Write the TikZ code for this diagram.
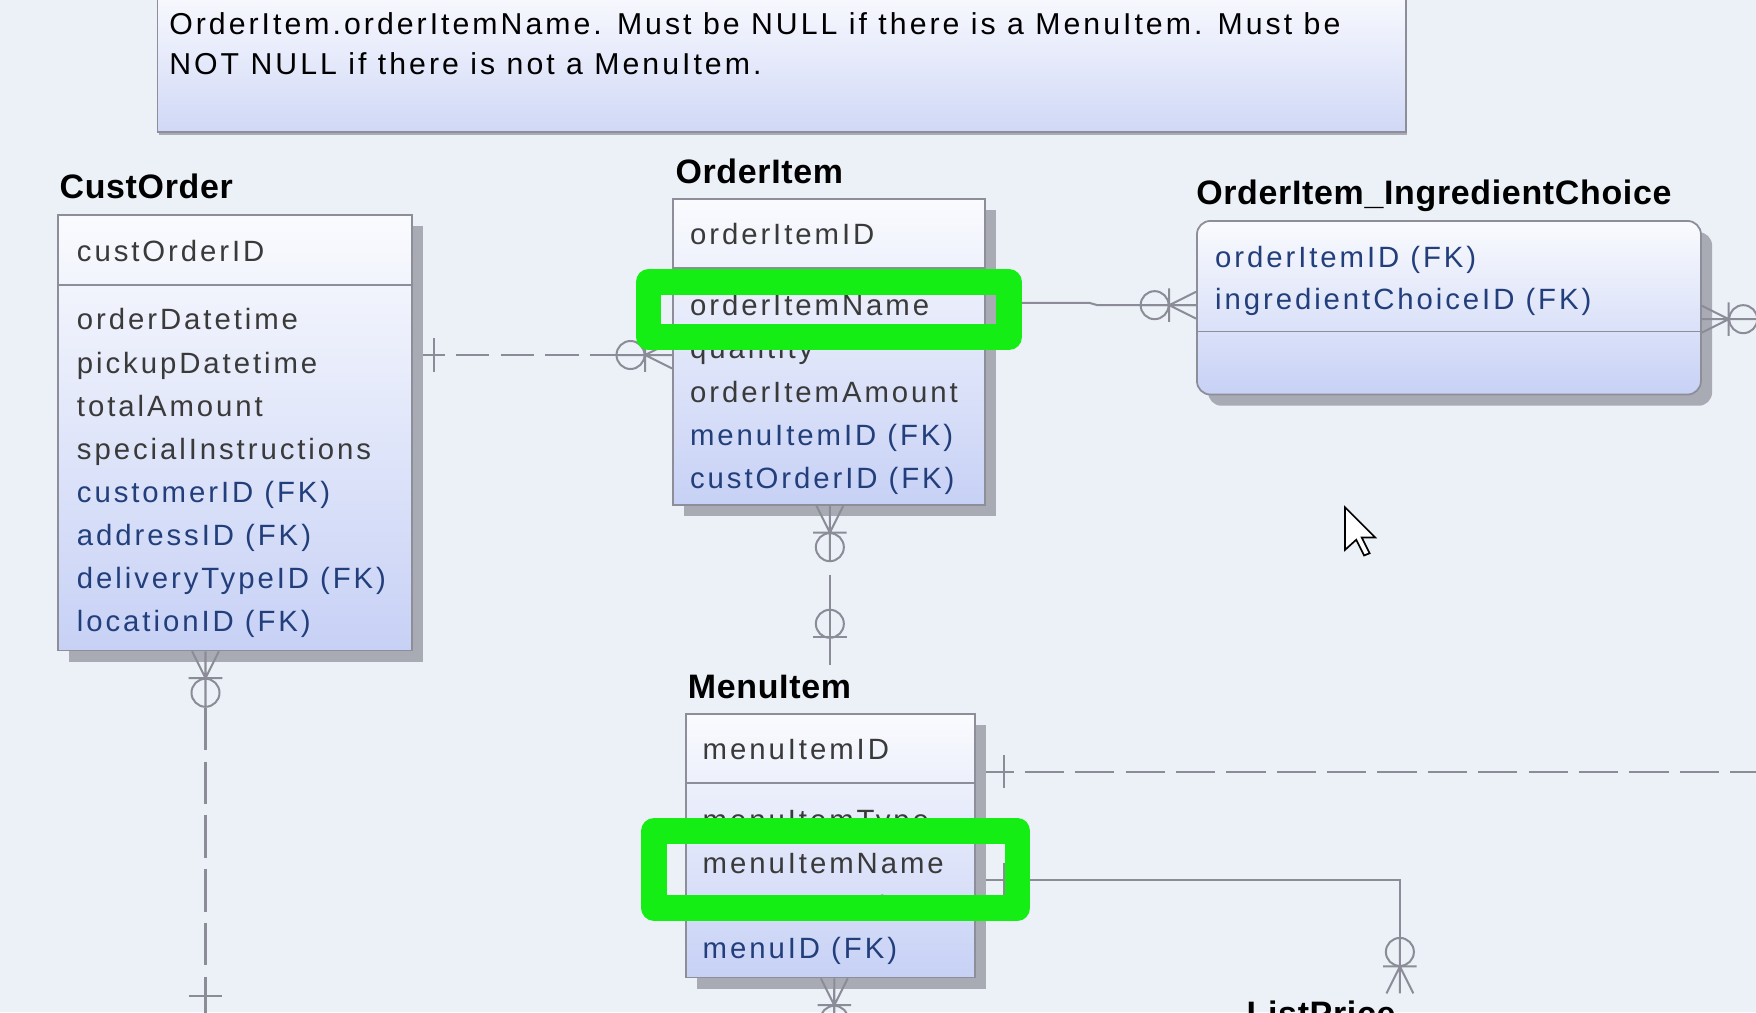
\documentclass[tikz,border=0pt]{standalone}
\usepackage{fontspec}
\setmainfont{Liberation Sans}
\newfontfamily\attrfont[LetterSpace=10]{Liberation Sans}
\newfontfamily\ttlfont[LetterSpace=2]{Liberation Sans}
\usetikzlibrary{shadows,calc}
\definecolor{bgc}{HTML}{ECF1F8}
\definecolor{eborder}{HTML}{8E8E9A}
\definecolor{eshadow}{HTML}{A9ABB4}
\definecolor{etop}{HTML}{FAFBFE}
\definecolor{ebot}{HTML}{C7D1F5}
\definecolor{ntop}{HTML}{FDFDFF}
\definecolor{nbot}{HTML}{D0D8F6}
\definecolor{txtgray}{HTML}{3A3A3A}
\definecolor{fknavy}{HTML}{223F7C}
\definecolor{conngray}{HTML}{8C8C98}
\definecolor{hlgreen}{HTML}{14EE14}
\tikzset{
  ebox/.style={anchor=north west, inner sep=0pt, draw=eborder, line width=1.6pt,
    top color=etop, bottom color=ebot,
    drop shadow={shadow xshift=10pt, shadow yshift=-10pt, fill=eshadow, opacity=1}},
  notebox/.style={anchor=north west, inner sep=0pt, draw=eborder, line width=1.4pt,
    top color=ntop, bottom color=nbot,
    drop shadow={shadow xshift=1pt, shadow yshift=-3pt, fill=eshadow, opacity=1}},
  divider/.style={draw=eborder, line width=1.6pt},
  attr/.style={anchor=base west, inner sep=0pt, text=txtgray, font={\attrfont\fontsize{26.2}{31}\selectfont}},
  fk/.style={attr, text=fknavy},
  etitle/.style={anchor=base west, inner sep=0pt, text=black, font={\ttlfont\bfseries\fontsize{30.3}{35}\selectfont}},
  ntext/.style={anchor=base west, inner sep=0pt, text=black, font={\attrfont\fontsize{27}{31}\selectfont}},
  conn/.style={draw=conngray, line width=1.8pt},
  hl/.style={draw=hlgreen, line width=23pt, line join=round, inner sep=0pt, anchor=center},
  pics/many/.style={code={
    \draw[conn] (0,-12) -- (24,0) (0,12) -- (24,0) (0,0) -- (50,0) (24,-15) -- (24,15);
    \draw[conn] (37,0) circle[radius=12.5pt];
  }},
  pics/onebar/.style={code={
    \draw[conn] (25,-15) -- (25,15);
  }},
  pics/zeroone/.style={code={
    \draw[conn] (25,-15) -- (25,15);
    \draw[conn] (37,0) circle[radius=12.5pt];
  }}
}
\begin{document}
\begin{tikzpicture}[x=1pt,y=-1pt]
\useasboundingbox (0,0) rectangle (1568,904);
\clip (0,0) rectangle (1568,904);
\fill[bgc] (0,0) rectangle (1568,904);

% ---------------- note
\node[notebox, minimum width=1115pt, minimum height=137pt] (note) at (140,-20) {};
\node[ntext] (n1) at (151,30.5) {OrderItem.orderItemName. Must be NULL if there is a MenuItem. Must be};
\node[ntext] (n2) at (151,66.5) {NOT NULL if there is not a MenuItem.};

% ---------------- connectors (under boxes)
% CustOrder -- OrderItem
\draw[conn, dash pattern=on 30pt off 10pt] (367,317) -- (600,317);
% CustOrder -- parent below
\coordinate (coP) at (183.5,914);
\draw[conn, dash pattern=on 38pt off 10pt] (183.5,632) -- (coP);
% OrderItem -- MenuItem
\draw[conn] (741,513) -- (741,594);
% OrderItem -- Ingredient
\draw[conn] (879,270.5) -- (973,270.5) -- (980,272.5) -- (1068,272.5);
% Ingredient -- right
\coordinate (ingR) at (1600,285);
\draw[conn] (1518,285) -- (ingR);
% MenuItem -- right (dashed)
\coordinate (miR) at (1600,689);
\draw[conn, dash pattern=on 35pt off 10pt] (870,689) -- (miR);
% MenuItem -- ListPrice
\coordinate (lpT) at (1250,887);
\draw[conn] (870,786) -- (lpT |- 0,786) -- (lpT);
% MenuItem -- below
\coordinate (miB) at (745,930);
\draw[conn] (745,872) -- (miB);

% ---------------- CustOrder
\node[etitle] (co-t) at (53,177) {CustOrder};
\node[ebox, minimum width=316pt, minimum height=389pt] (co) at (51,191) {};
\draw[divider] (co.west |- 0,254.5) -- (co.east |- 0,254.5);
\node[attr] (co-a0) at (68.5,233.6) {custOrderID};
\node[attr] (co-a1) at (68.5,294.6) {orderDatetime};
\node[attr] (co-a2) at (68.5,333.1) {pickupDatetime};
\node[attr] (co-a3) at (68.5,371.6) {totalAmount};
\node[attr] (co-a4) at (68.5,410.1) {specialInstructions};
\node[fk]   (co-a5) at (68.5,448.6) {customerID (FK)};
\node[fk]   (co-a6) at (68.5,487.1) {addressID (FK)};
\node[fk]   (co-a7) at (68.5,525.6) {deliveryTypeID (FK)};
\node[fk]   (co-a8) at (68.5,564.1) {locationID (FK)};

% ---------------- OrderItem
\node[etitle] (oi-t) at (603,163.7) {OrderItem};
\node[ebox, minimum width=279pt, minimum height=273pt] (oi) at (600,177) {};
\draw[divider] (oi.west |- 0,239) -- (oi.east |- 0,239);
\node[attr] (oi-a0) at (616,218) {orderItemID};
\node[attr] (oi-a1) at (616,282) {orderItemName};
\node[attr] (oi-a2) at (616,320.5) {quantity};
\node[attr] (oi-a3) at (616,359) {orderItemAmount};
\node[fk]   (oi-a4) at (616,397.5) {menuItemID (FK)};
\node[fk]   (oi-a5) at (616,436) {custOrderID (FK)};

% ---------------- OrderItem_IngredientChoice
\node[etitle] (ing-t) at (1068,183) {OrderItem\_IngredientChoice};
\node[ebox, rounded corners=12pt, minimum width=450pt, minimum height=155pt] (ing) at (1068,196.5) {};
\draw[divider] (ing.west |- 0,296) -- (ing.east |- 0,296);
\node[fk] (ing-a0) at (1084.8,238.7) {orderItemID (FK)};
\node[fk] (ing-a1) at (1084.8,276.8) {ingredientChoiceID (FK)};

% ---------------- MenuItem
\node[etitle] (mi-t) at (614,623.5) {MenuItem};
\node[ebox, minimum width=258pt, minimum height=235pt] (mi) at (612,637) {};
\draw[divider] (mi.west |- 0,699) -- (mi.east |- 0,699);
\node[attr] (mi-a0) at (627.3,678.6) {menuItemID};
\node[attr] (mi-a1) at (627.3,741.5) {menuItemType};
\node[attr] (mi-a2) at (627.3,780) {menuItemName};
\node[attr] (mi-a3) at (627.3,818.5) {menuItemSize};
\node[fk]   (mi-a4) at (627.3,855.6) {menuID (FK)};

% ---------------- ListPrice (cut off by the frame, as in the reference)
\node[etitle] (lp-t) at (1113,916) {ListPrice};

% ---------------- relationship ends
\path (co.east |- 0,317) pic[xshift=-6pt] {onebar};
\path (oi.west |- 0,317) pic[rotate=180] {many};
\path (co.south -| 183.5,0) pic[rotate=-90] {many};
\path (coP) pic[rotate=90] {onebar};
\path (oi.south -| 741,0) pic[rotate=-90] {many};
\path ($(mi.north -| 741,0)+(0,-43)$) pic[rotate=90] {zeroone};
\path (ing.west |- 0,272.5) pic[rotate=180] {many};
\path (ing.east |- 0,285) pic {many};
\path (mi.east |- 0,689) pic {onebar};
\path (mi.east |- 0,786) pic {onebar};
\path (lpT) pic[rotate=90] {many};
\path (mi.south -| 745,0) pic[rotate=-90] {many};

% ---------------- highlights
\node[hl, minimum width=322pt, minimum height=49pt] (hl1) at (740,276.5) {};
\node[hl, minimum width=324.5pt, minimum height=68.5pt] (hl2) at (746.25,776.25) {};

% ---------------- mouse pointer
\draw[black, line width=1.5pt, fill=white, line join=miter]
  (1201,453) -- (1201,491) -- (1211,482) -- (1218,496) -- (1223,494) -- (1216,480) -- (1228,480) -- cycle;
\end{tikzpicture}
\end{document}
